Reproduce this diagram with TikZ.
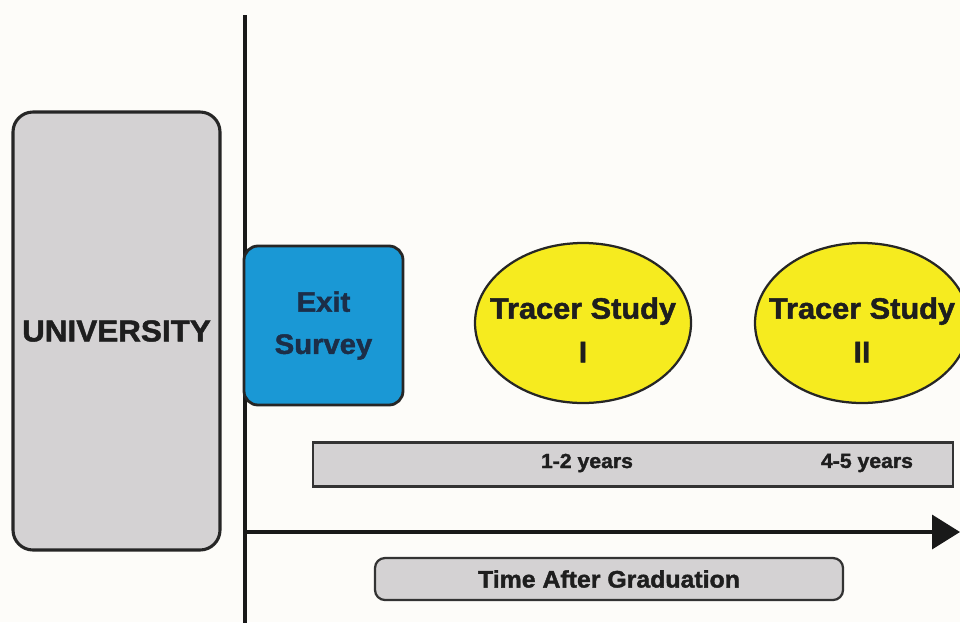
\documentclass[tikz,border=0pt]{standalone}
\usepackage{fontspec}
\setmainfont{Liberation Sans}[BoldFeatures={FakeBold=1.6,FakeStretch=1.04}]
\usetikzlibrary{arrows.meta,shapes.geometric}
\definecolor{boxgray}{HTML}{D4D2D3}
\definecolor{surveyblue}{HTML}{1A98D5}
\definecolor{traceryellow}{HTML}{F6EB1F}
\definecolor{inkdark}{HTML}{1E1E1E}
\definecolor{inknavy}{HTML}{1C2E48}
\definecolor{paper}{HTML}{FDFCF9}
\tikzset{
  unibox/.style={draw=black!85, line width=2.2pt, rounded corners=0.5cm, fill=boxgray,
    minimum width=5.175cm, minimum height=10.95cm, inner sep=0pt,
    font=\bfseries\fontsize{21.5}{24}\selectfont, text=inkdark},
  exitbox/.style={draw=black!85, line width=2pt, rounded corners=0.35cm, fill=surveyblue,
    minimum width=3.975cm, minimum height=3.975cm, inner sep=0pt, align=center,
    font=\bfseries\fontsize{20}{30}\selectfont, text=inknavy},
  tracer/.style={ellipse, draw=black!85, line width=1.6pt, fill=traceryellow,
    minimum width=5.4cm, minimum height=4cm, inner sep=0pt},
  tracerlbl/.style={align=center, inner sep=0pt, yshift=-0.17cm,
    font=\bfseries\fontsize{21}{31}\selectfont, text=inkdark},
  yearbar/.style={draw=black!80, line width=1.5pt, fill=boxgray,
    minimum width=16cm, minimum height=1.1cm, inner sep=0pt},
  yearlbl/.style={font=\bfseries\fontsize{14.5}{17}\selectfont, text=inkdark},
  timebox/.style={draw=black!80, line width=1.6pt, rounded corners=0.25cm, fill=boxgray,
    minimum width=11.7cm, minimum height=1.05cm, inner sep=0pt,
    font=\bfseries\fontsize{17}{20}\selectfont, text=inkdark},
  timeline/.style={draw=black!90, line width=2.5pt}
}
\begin{document}
\begin{tikzpicture}
  \fill[paper] (0,0) rectangle (24,-15.55);
  \useasboundingbox (0,0) rectangle (24,-15.55);
  % graduation line and time axis
  \coordinate (vtop) at (6.125,-0.375);
  \coordinate (vbot) at (6.125,-15.6);
  \coordinate (tstart) at (6.125,-13.3);
  \coordinate (tend) at (24,-13.3);
  \draw[timeline] (vtop) -- (vbot);
  \draw[timeline,-{Triangle[length=0.7cm,width=0.85cm]}] (tstart) -- (tend);
  % stages
  \node[unibox] (uni) at (2.9125,-8.275) {UNIVERSITY};
  \node[exitbox] (exit) at (8.0875,-8.1375) {Exit\\Survey};
  \node[tracer] (ts1) at (14.575,-8.075) {};
  \node[tracerlbl] (ts1lbl) at (ts1) {Tracer Study\\I};
  \node[tracer, minimum width=5.35cm] (ts2) at (21.55,-8.075) {};
  \node[tracerlbl] (ts2lbl) at (ts2) {Tracer Study\\II};
  % years
  \node[yearbar] (bar) at (15.825,-11.6125) {};
  \node[yearlbl] (y12) at (14.675,-11.575) {1-2 years};
  \node[yearlbl] (y45) at (21.675,-11.575) {4-5 years};
  \node[timebox] (tag) at (15.225,-14.475) {Time After Graduation};
\end{tikzpicture}
\end{document}
